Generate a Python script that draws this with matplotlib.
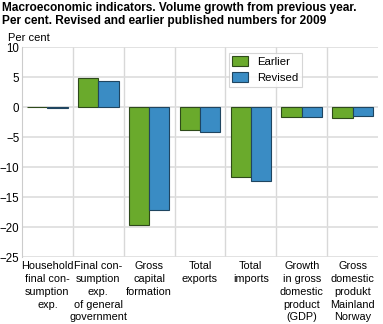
import matplotlib
matplotlib.use("Agg")
from matplotlib import pyplot as plt
import numpy as np

categories = ["Household\nfinal con-\nsumption\nexp.",
              "Final con-\nsumption\nexp.\nof general\ngovernment",
              "Gross\ncapital\nformation",
              "Total\nexports",
              "Total\nimports",
              "Growth\nin gross\ndomestic\nproduct\n(GDP)",
              "Gross\ndomestic\nprodukt\nMainland\nNorway"]
earlier = [0.0, 4.8, -19.7, -3.9, -11.7, -1.7, -1.8]
revised = [-0.2, 4.3, -17.1, -4.2, -12.4, -1.7, -1.5]

plt.rcParams["font.family"] = ["Liberation Sans", "DejaVu Sans"]

fig = plt.figure(figsize=(3.83, 3.24), dpi=100)
ax = fig.add_axes([22 / 383, 1 - 257 / 324, 356 / 383, 210 / 324])

x = np.arange(len(categories))
w = 0.4
ax.bar(x - w / 2, earlier, w, color="#6aaa2c", edgecolor="#2e4a1a", linewidth=0.8,
       label="Earlier", zorder=3)
ax.bar(x + w / 2, revised, w, color="#3a8cc4", edgecolor="#1f4560", linewidth=0.8,
       label="Revised", zorder=3)

ax.set_xlim(-0.5, len(categories) - 0.5)
ax.set_ylim(-25, 10)
ax.set_yticks(range(-25, 11, 5))
ax.set_xticks(x)
ax.set_xticklabels(categories, fontsize=7.8, linespacing=1.35)
ax.set_xticks(np.arange(0.5, len(categories) - 0.5, 1), minor=True)
ax.tick_params(axis="x", which="both", length=0, pad=3)
ax.tick_params(axis="y", length=0, labelsize=8.3, pad=2)
ax.grid(axis="y", color="#dddddd", linewidth=1.2, zorder=0)
ax.grid(axis="x", which="minor", color="#d8d8d8", linewidth=1, zorder=0)
for s in ["top", "right", "bottom"]:
    ax.spines[s].set_visible(False)
ax.spines["left"].set_color("#cccccc")

leg = ax.legend(loc="upper left", bbox_to_anchor=(0.565, 1.0), fontsize=8.2,
                frameon=True, fancybox=False, edgecolor="#cccccc",
                handlelength=1.4, handleheight=1.0, borderpad=0.3,
                labelspacing=0.45)
leg.get_frame().set_linewidth(0.8)

fig.text(0.006, 0.995, "Macroeconomic indicators. Volume growth from previous year.\n"
         "Per cent. Revised and earlier published numbers for 2009",
         fontsize=8.6, fontweight="bold", va="top", ha="left", linespacing=1.1)
fig.text(0.02, 1 - 38 / 324, "Per cent", fontsize=8, va="center", ha="left")

fig.savefig("out.png", dpi=100)
